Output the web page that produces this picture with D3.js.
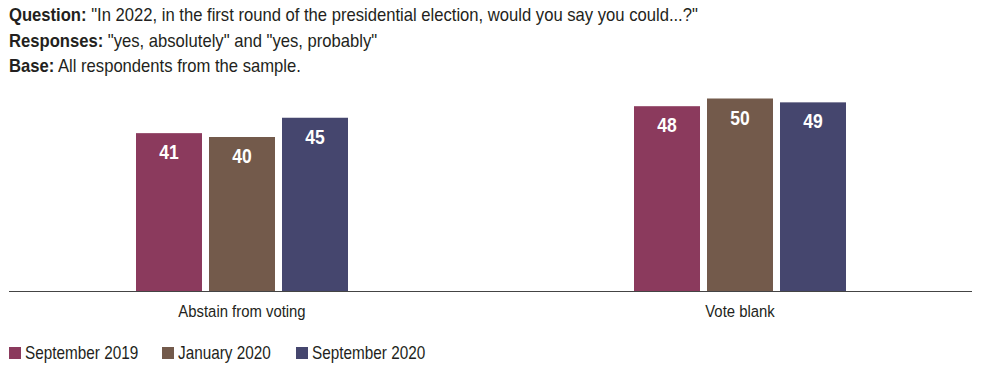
<!DOCTYPE html>
<html>
<head>
<meta charset="utf-8">
<script src="https://cdn.jsdelivr.net/npm/d3@7"></script>
<style>
  body { margin: 0; background: #fff; }
  svg text { font-family: "Liberation Sans Narrow", "Arial Narrow", "Liberation Sans", sans-serif; }
</style>
</head>
<body>
<svg id="chart" width="990" height="368"></svg>
<script>
// Data
var categories = ['Abstain from voting', 'Vote blank'];
var seriesNames = ['September 2019', 'January 2020', 'September 2020'];
var seriesColors = ['#8b3a5d', '#735a4b', '#45466e'];
var sep2019 = [41, 48];
var jan2020 = [40, 50];
var sep2020 = [45, 49];
var seriesValues = [sep2019, jan2020, sep2020];

var headerLines = [
    { label: 'Question:', text: ' "In 2022, in the first round of the presidential election, would you say you could...?"' },
    { label: 'Responses:', text: ' "yes, absolutely" and "yes, probably"' },
    { label: 'Base:', text: ' All respondents from the sample.' }
];

var textColor = '#231f20';
// no condensed font installed, so squeeze text horizontally
var narrow = 0.875;

var svg = d3.select('#chart');

// header
svg.selectAll('g.header')
    .data(headerLines)
    .enter().append('g')
    .attr('class', 'header')
    .attr('transform', function(d, i){ return 'translate(9,' + (21 + i * 25.5) + ') scale(' + narrow + ',1)'; })
    .append('text')
    .attr('font-size', 19)
    .attr('fill', textColor)
    .each(function(d){
        var t = d3.select(this);
        t.append('tspan').attr('font-weight', 'bold').text(d.label);
        t.append('tspan').text(d.text);
    });

// scales
var baseY = 291;
var x0 = d3.scaleBand().domain(categories).range([-7, 989]);
var y = d3.scaleLinear().domain([0, 50]).range([baseY, 98.5]);
var barW = 66, gap = 7;
var x1 = d3.scaleBand().domain(d3.range(seriesNames.length))
    .range([0, barW * 3 + gap * 2]).paddingInner(gap / (barW + gap));

var groups = svg.selectAll('g.group')
    .data(categories)
    .enter().append('g')
    .attr('class', 'group')
    .attr('transform', function(d){
        return 'translate(' + (x0(d) + x0.bandwidth() / 2 - (barW * 3 + gap * 2) / 2) + ',0)';
    });

groups.each(function(cat, ci){
    var g = d3.select(this);
    var rows = seriesValues.map(function(vals, si){ return { si: si, v: vals[ci] }; });

    g.selectAll('rect')
        .data(rows)
        .enter().append('rect')
        .attr('x', function(d){ return x1(d.si); })
        .attr('y', function(d){ return y(d.v); })
        .attr('width', x1.bandwidth())
        .attr('height', function(d){ return baseY - y(d.v); })
        .attr('fill', function(d){ return seriesColors[d.si]; });

    g.selectAll('g.val')
        .data(rows)
        .enter().append('g')
        .attr('class', 'val')
        .attr('transform', function(d){
            return 'translate(' + (x1(d.si) + x1.bandwidth() / 2) + ',' + (y(d.v) + 26) + ') scale(' + narrow + ',1)';
        })
        .append('text')
        .attr('text-anchor', 'middle')
        .attr('font-size', 20)
        .attr('font-weight', 'bold')
        .attr('fill', '#fff')
        .text(function(d){ return d.v; });
});

// baseline
svg.append('line')
    .attr('x1', 9).attr('x2', 972)
    .attr('y1', baseY + 0.5).attr('y2', baseY + 0.5)
    .attr('stroke', '#444').attr('stroke-width', 1);

// category labels
svg.selectAll('g.cat')
    .data(categories)
    .enter().append('g')
    .attr('class', 'cat')
    .attr('transform', function(d){
        return 'translate(' + (x0(d) + x0.bandwidth() / 2) + ',317) scale(' + narrow + ',1)';
    })
    .append('text')
    .attr('text-anchor', 'middle')
    .attr('font-size', 17)
    .attr('fill', textColor)
    .text(function(d){ return d; });

// legend
var legendX = [9, 162, 296];
var legend = svg.selectAll('g.legend')
    .data(seriesNames)
    .enter().append('g')
    .attr('class', 'legend')
    .attr('transform', function(d, i){ return 'translate(' + legendX[i] + ',347)'; });

legend.append('rect')
    .attr('width', 12).attr('height', 12)
    .attr('fill', function(d, i){ return seriesColors[i]; });

legend.append('g')
    .attr('transform', 'translate(16,11.5) scale(' + narrow + ',1)')
    .append('text')
    .attr('font-size', 17.5)
    .attr('fill', textColor)
    .text(function(d){ return d; });
</script>
</body>
</html>
